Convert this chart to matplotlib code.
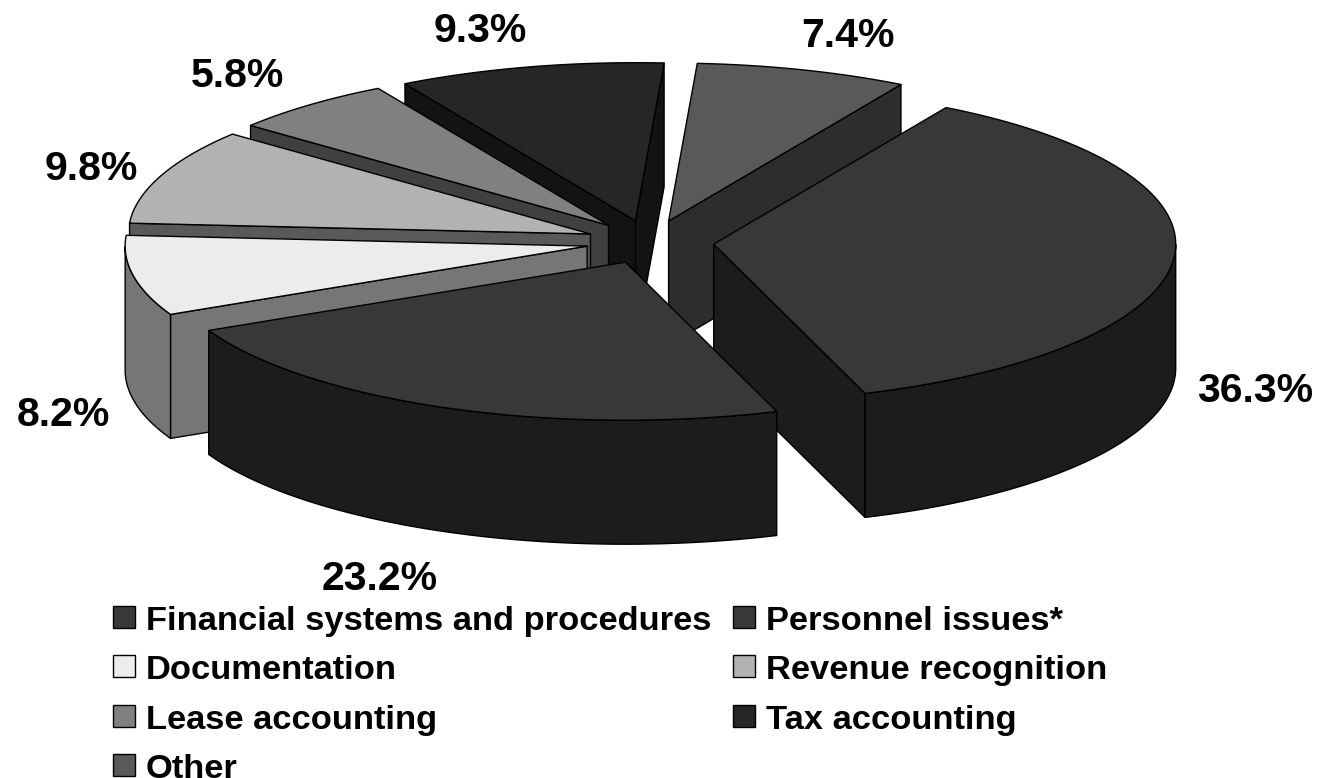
import numpy as np
import matplotlib
matplotlib.use("Agg")
import matplotlib.pyplot as plt
from matplotlib.patches import Polygon, Rectangle

categories = ["Financial systems and procedures", "Personnel issues*", "Documentation",
              "Revenue recognition", "Lease accounting", "Tax accounting", "Other"]
values = [36.3, 23.2, 8.2, 9.8, 5.8, 9.3, 7.4]
value_labels = ["36.3%", "23.2%", "8.2%", "9.8%", "5.8%", "9.3%", "7.4%"]
top_colors = ["#383838", "#383838", "#ececec", "#b2b2b2", "#808080", "#262626", "#595959"]

# layout (pixels)
W, H = 1321, 778
CX, CY, RX, RY, DEPTH, EXPLODE = 650, 242, 462, 158, 124, 64
START = 59.8
DRAW_ORDER = [5, 4, 3, 2, 6, 0, 1]
LABEL_POS = [(1255, 391), (380, 579), (63, 415), (91, 169), (237, 76), (480, 31), (848, 36)]
LEG_ROWS = [617, 666, 716, 765]
LEG_COLS = [113, 733]
LEG_SW = 22
LEG_TX = 11

plt.rcParams["font.family"] = ["Liberation Sans", "DejaVu Sans"]
fig = plt.figure(figsize=(W / 100, H / 100), dpi=100, facecolor="white")
ax = fig.add_axes([0, 0, 1, 1])
ax.set_xlim(0, W)
ax.set_ylim(H, 0)
ax.axis("off")


def half(c):
    r, g, b = matplotlib.colors.to_rgb(c)
    return (r * .5, g * .5, b * .5)


total = sum(values)
angles = [START]
for v in values:
    angles.append(angles[-1] - 360 * v / total)

z = 1


def poly(pts, fc):
    global z
    ax.add_patch(Polygon(pts, closed=True, fc=fc, ec="black", lw=1.0, joinstyle="round", zorder=z))
    z += 1


for i in DRAW_ORDER:
    hi, lo = angles[i], angles[i + 1]
    mid = np.radians((hi + lo) / 2)
    ox = CX + EXPLODE * np.cos(mid)
    oy = CY - EXPLODE * RY / RX * np.sin(mid)
    P = lambda a: (ox + RX * np.cos(np.radians(a)), oy - RY * np.sin(np.radians(a)))
    wall = half(top_colors[i])
    for a, normal in ((lo, lo - 90), (hi, hi + 90)):
        if np.sin(np.radians(normal)) < 0:
            x, y = P(a)
            poly([(ox, oy), (x, y), (x, y + DEPTH), (ox, oy + DEPTH)], wall)
    # outer rim: only the front half of the circle faces the viewer
    t = np.linspace(lo, hi, 160)
    t = t[np.sin(np.radians(t)) <= 0]
    if len(t) > 1:
        rim = [P(a) for a in t]
        poly(rim + [(x, y + DEPTH) for x, y in rim[::-1]], wall)
    t = np.linspace(lo, hi, 160)
    poly([(ox, oy)] + [P(a) for a in t], top_colors[i])

for (x, y), s in zip(LABEL_POS, value_labels):
    ax.text(x, y, s, fontsize=29.5, fontweight="bold", ha="center", va="center", color="black", zorder=z + 1)

for i, name in enumerate(categories):
    y = LEG_ROWS[i // 2]
    x = LEG_COLS[i % 2]
    ax.add_patch(Rectangle((x, y - LEG_SW / 2), LEG_SW, LEG_SW, fc=top_colors[i], ec="black", lw=1.0, zorder=z))
    ax.text(x + LEG_SW + LEG_TX, y + 1, name, fontsize=24.8, fontweight="bold", ha="left", va="center_baseline", color="black", zorder=z + 1)

fig.savefig("out.png", dpi=100)
